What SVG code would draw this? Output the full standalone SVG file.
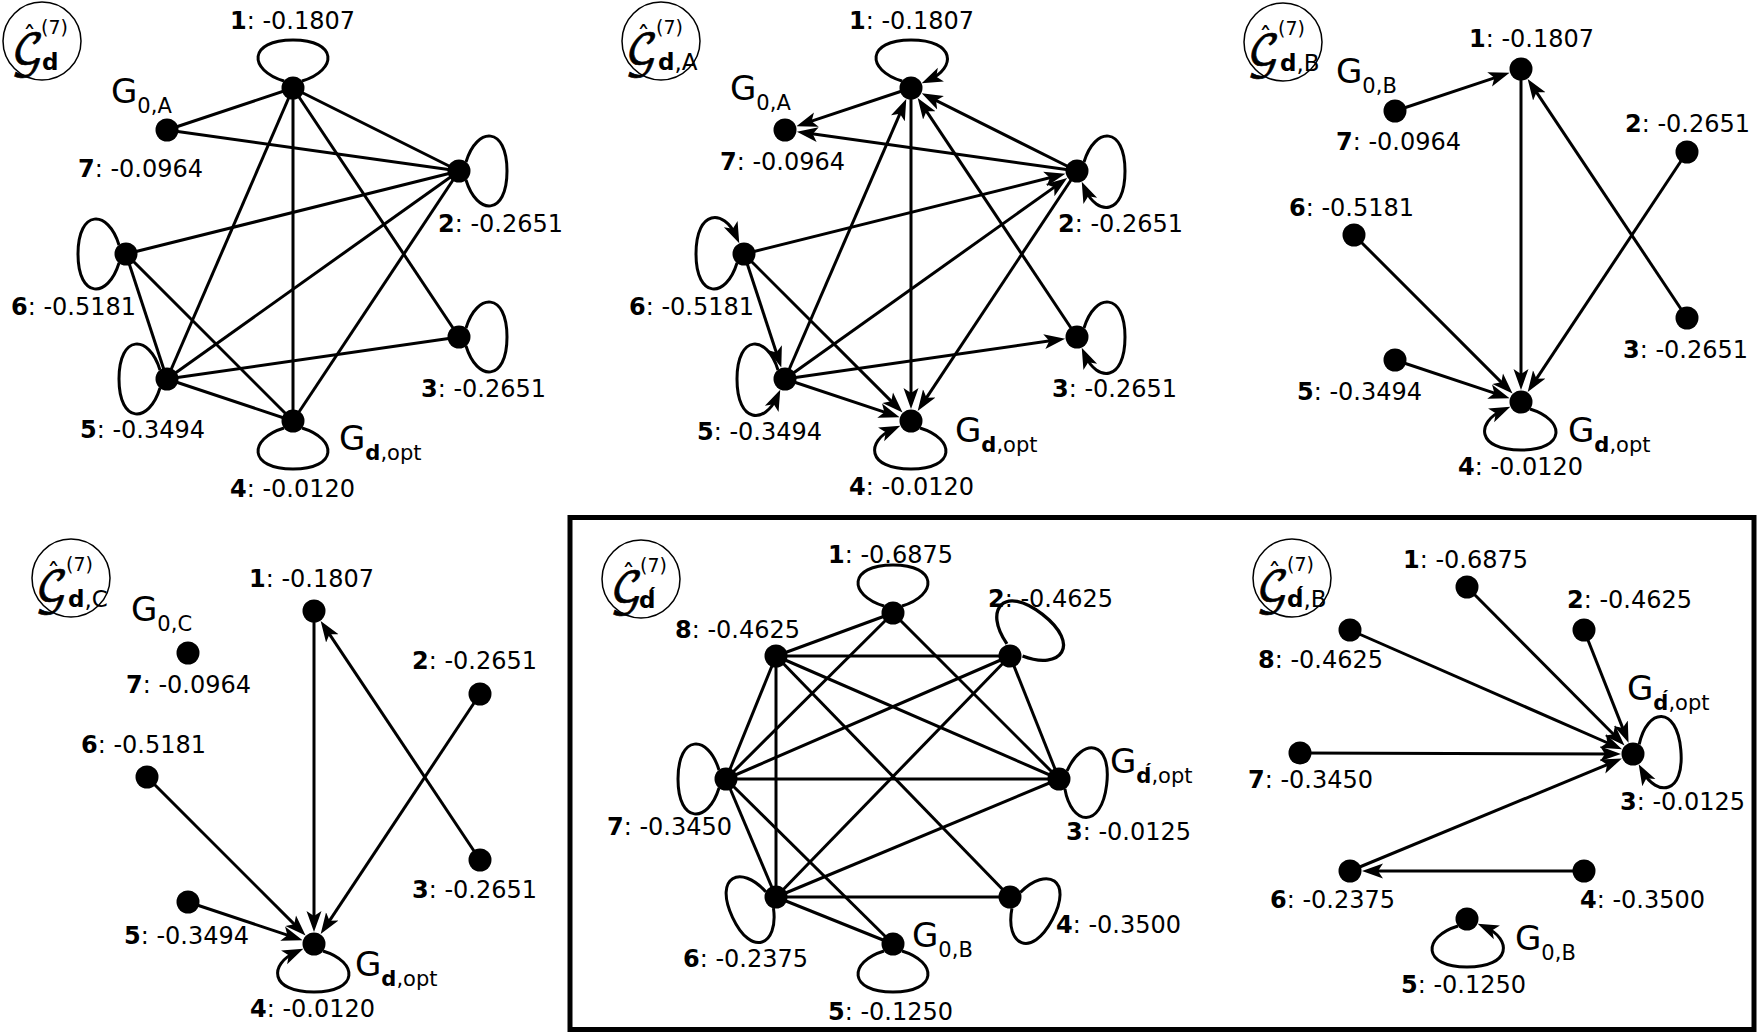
<svg xmlns="http://www.w3.org/2000/svg" xmlns:xlink="http://www.w3.org/1999/xlink" width="1762" height="1035" viewBox="0 0 1762 1035">
<style>
  .e { stroke:#000; stroke-width:3; fill:none; }
  .a { marker-end:url(#ah); }
  .n { fill:#000; }
  text { font-family:"DejaVu Sans","Liberation Sans",sans-serif; fill:#000; }
  .v { font-size:24px; }
  .g { font-size:34px; }
  .s { font-size:21px; }
  .ttl circle { fill:none; stroke:#000; stroke-width:1.5; }
  .cal { font-family:"DejaVu Math TeX Gyre","DejaVu Serif",serif; font-size:44px; stroke:#000; stroke-width:0.7; }
  .hat { font-size:26px; }
  .sup { font-size:19px; }
  .ts { font-size:23px; }
  .b { font-weight:bold; }
</style>
<defs>
  <marker id="ah" markerUnits="userSpaceOnUse" viewBox="0 -8 22 16" markerWidth="22" markerHeight="16" refX="13" refY="0" orient="auto">
    <path d="M21,0 L0,-7.5 L5,0 L0,7.5 Z" fill="#000"/>
  </marker>
  <!-- self-loop, drawn pointing up from a node at the origin -->
  <path id="lp" d="M-9,-7 C-45,-18 -45,-48 0,-48 C45,-48 45,-18 9,-7" fill="none" stroke="#000" stroke-width="3"/>
  <path id="lpd" d="M-9,-7 C-45,-18 -45,-48 0,-48 C45,-48 45,-20 18,-8" fill="none" stroke="#000" stroke-width="3" marker-end="url(#ah)"/>
</defs>
<rect width="1762" height="1035" fill="#fff"/>

<!-- frame round the two lower-right graphs -->
<rect id="frame" x="570" y="517.5" width="1184" height="512" fill="none" stroke="#000" stroke-width="5"/>

<!-- ===== graph 1 ===== -->
<g id="panel-1">
  <g id="p1-title" class="ttl" transform="translate(42,41)">
    <circle r="39"/>
    <text><tspan class="cal" x="-31" y="25">𝒢</tspan><tspan class="hat" x="-19" y="5">ˆ</tspan><tspan class="sup" x="-1" y="-7">(7)</tspan><tspan class="ts b" x="0" y="29">d</tspan></text>
  </g>
  <g id="p1-edges">
    <line class="e" x1="293" y1="88" x2="167" y2="130"/>
    <line class="e" x1="293" y1="88" x2="459" y2="171"/>
    <line class="e" x1="293" y1="88" x2="167" y2="379"/>
    <line class="e" x1="293" y1="88" x2="293" y2="421"/>
    <line class="e" x1="293" y1="88" x2="459" y2="337"/>
    <line class="e" x1="167" y1="130" x2="459" y2="171"/>
    <line class="e" x1="459" y1="171" x2="126" y2="254"/>
    <line class="e" x1="459" y1="171" x2="167" y2="379"/>
    <line class="e" x1="459" y1="171" x2="293" y2="421"/>
    <line class="e" x1="126" y1="254" x2="167" y2="379"/>
    <line class="e" x1="126" y1="254" x2="293" y2="421"/>
    <line class="e" x1="167" y1="379" x2="459" y2="337"/>
    <line class="e" x1="167" y1="379" x2="293" y2="421"/>
    <use xlink:href="#lp" transform="translate(293,88)"/>
    <use xlink:href="#lp" transform="translate(459,171) rotate(90)"/>
    <use xlink:href="#lp" transform="translate(126,254) rotate(-90)"/>
    <use xlink:href="#lp" transform="translate(459,337) rotate(90)"/>
    <use xlink:href="#lp" transform="translate(167,379) rotate(-90)"/>
    <use xlink:href="#lp" transform="translate(293,421) rotate(180)"/>
  </g>
  <g id="p1-n1"><circle class="n" cx="293" cy="88" r="11.5"/><text class="v" x="230" y="29"><tspan class="b">1</tspan>: -0.1807</text></g>
  <g id="p1-n2"><circle class="n" cx="459" cy="171" r="11.5"/><text class="v" x="438" y="232"><tspan class="b">2</tspan>: -0.2651</text></g>
  <g id="p1-n3"><circle class="n" cx="459" cy="337" r="11.5"/><text class="v" x="421" y="397"><tspan class="b">3</tspan>: -0.2651</text></g>
  <g id="p1-n4"><circle class="n" cx="293" cy="421" r="11.5"/><text class="g" x="339" y="450">G<tspan class="s" dy="10"><tspan class="b">d</tspan>,opt</tspan></text><text class="v" x="230" y="497"><tspan class="b">4</tspan>: -0.0120</text></g>
  <g id="p1-n5"><circle class="n" cx="167" cy="379" r="11.5"/><text class="v" x="80" y="438"><tspan class="b">5</tspan>: -0.3494</text></g>
  <g id="p1-n6"><circle class="n" cx="126" cy="254" r="11.5"/><text class="v" x="11" y="315"><tspan class="b">6</tspan>: -0.5181</text></g>
  <g id="p1-n7"><circle class="n" cx="167" cy="130" r="11.5"/><text class="g" x="111" y="103">G<tspan class="s" dy="10">0,A</tspan></text><text class="v" x="78" y="177"><tspan class="b">7</tspan>: -0.0964</text></g>
</g>

<!-- ===== graph 2 ===== -->
<g id="panel-2">
  <g id="p2-title" class="ttl" transform="translate(661,41)">
    <circle r="39"/>
    <text><tspan class="cal" x="-36" y="25">𝒢</tspan><tspan class="hat" x="-24" y="5">ˆ</tspan><tspan class="sup" x="-5" y="-7">(7)</tspan><tspan class="ts" x="-3" y="29"><tspan class="b">d</tspan>,A</tspan></text>
  </g>
  <g id="p2-edges">
    <path class="e a" d="M911,88 L804,123.7"/>
    <path class="e a" d="M1077,171 L804.8,132.8"/>
    <path class="e a" d="M1077,171 L928.9,96.9"/>
    <path class="e a" d="M1077,337 L922.1,104.6"/>
    <path class="e a" d="M911,88 L911,401"/>
    <path class="e a" d="M785,379 L903.1,106.4"/>
    <path class="e a" d="M744,254 L1057.6,175.8"/>
    <path class="e a" d="M785,379 L1060.7,182.6"/>
    <path class="e a" d="M1077,171 L922.1,404.3"/>
    <path class="e a" d="M744,254 L778.8,360"/>
    <path class="e a" d="M744,254 L896.9,406.9"/>
    <path class="e a" d="M785,379 L1057.2,339.8"/>
    <path class="e a" d="M785,379 L892,414.7"/>
    <use xlink:href="#lpd" transform="translate(911,88)"/>
    <use xlink:href="#lpd" transform="translate(1077,171) rotate(90)"/>
    <use xlink:href="#lpd" transform="translate(744,254) rotate(-90)"/>
    <use xlink:href="#lpd" transform="translate(1077,337) rotate(90)"/>
    <use xlink:href="#lpd" transform="translate(785,379) rotate(-90) scale(-1,1)"/>
    <use xlink:href="#lpd" transform="translate(911,421) rotate(180)"/>
  </g>
  <g id="p2-n1"><circle class="n" cx="911" cy="88" r="11.5"/><text class="v" x="849" y="29"><tspan class="b">1</tspan>: -0.1807</text></g>
  <g id="p2-n2"><circle class="n" cx="1077" cy="171" r="11.5"/><text class="v" x="1058" y="232"><tspan class="b">2</tspan>: -0.2651</text></g>
  <g id="p2-n3"><circle class="n" cx="1077" cy="337" r="11.5"/><text class="v" x="1052" y="397"><tspan class="b">3</tspan>: -0.2651</text></g>
  <g id="p2-n4"><circle class="n" cx="911" cy="421" r="11.5"/><text class="g" x="955" y="442">G<tspan class="s" dy="10"><tspan class="b">d</tspan>,opt</tspan></text><text class="v" x="849" y="495"><tspan class="b">4</tspan>: -0.0120</text></g>
  <g id="p2-n5"><circle class="n" cx="785" cy="379" r="11.5"/><text class="v" x="697" y="440"><tspan class="b">5</tspan>: -0.3494</text></g>
  <g id="p2-n6"><circle class="n" cx="744" cy="254" r="11.5"/><text class="v" x="629" y="315"><tspan class="b">6</tspan>: -0.5181</text></g>
  <g id="p2-n7"><circle class="n" cx="785" cy="130" r="11.5"/><text class="g" x="730" y="100">G<tspan class="s" dy="10">0,A</tspan></text><text class="v" x="720" y="170"><tspan class="b">7</tspan>: -0.0964</text></g>
</g>

<!-- ===== graph 3 ===== -->
<g id="panel-3">
  <g id="p3-title" class="ttl" transform="translate(1283,42)">
    <circle r="39"/>
    <text><tspan class="cal" x="-36" y="25">𝒢</tspan><tspan class="hat" x="-24" y="5">ˆ</tspan><tspan class="sup" x="-5" y="-7">(7)</tspan><tspan class="ts" x="-3" y="29"><tspan class="b">d</tspan>,B</tspan></text>
  </g>
  <g id="p3-edges">
    <path class="e a" d="M1395,111 L1502,75.3"/>
    <path class="e a" d="M1521,69 L1521,382"/>
    <path class="e a" d="M1687,318 L1532.1,85.6"/>
    <path class="e a" d="M1687,152 L1532.1,385.3"/>
    <path class="e a" d="M1354,235 L1506.9,387.9"/>
    <path class="e a" d="M1395,360 L1502,395.7"/>
    <use xlink:href="#lpd" transform="translate(1521,402) rotate(180)"/>
  </g>
  <g id="p3-n1"><circle class="n" cx="1521" cy="69" r="11.5"/><text class="v" x="1469" y="47"><tspan class="b">1</tspan>: -0.1807</text></g>
  <g id="p3-n2"><circle class="n" cx="1687" cy="152" r="11.5"/><text class="v" x="1625" y="132"><tspan class="b">2</tspan>: -0.2651</text></g>
  <g id="p3-n3"><circle class="n" cx="1687" cy="318" r="11.5"/><text class="v" x="1623" y="358"><tspan class="b">3</tspan>: -0.2651</text></g>
  <g id="p3-n4"><circle class="n" cx="1521" cy="402" r="11.5"/><text class="g" x="1568" y="442">G<tspan class="s" dy="10"><tspan class="b">d</tspan>,opt</tspan></text><text class="v" x="1458" y="475"><tspan class="b">4</tspan>: -0.0120</text></g>
  <g id="p3-n5"><circle class="n" cx="1395" cy="360" r="11.5"/><text class="v" x="1297" y="400"><tspan class="b">5</tspan>: -0.3494</text></g>
  <g id="p3-n6"><circle class="n" cx="1354" cy="235" r="11.5"/><text class="v" x="1289" y="216"><tspan class="b">6</tspan>: -0.5181</text></g>
  <g id="p3-n7"><circle class="n" cx="1395" cy="111" r="11.5"/><text class="g" x="1336" y="83">G<tspan class="s" dy="10">0,B</tspan></text><text class="v" x="1336" y="150"><tspan class="b">7</tspan>: -0.0964</text></g>
</g>

<!-- ===== graph 4 ===== -->
<g id="panel-4">
  <g id="p4-title" class="ttl" transform="translate(71,578)">
    <circle r="39"/>
    <text><tspan class="cal" x="-36" y="25">𝒢</tspan><tspan class="hat" x="-24" y="5">ˆ</tspan><tspan class="sup" x="-5" y="-7">(7)</tspan><tspan class="ts" x="-3" y="29"><tspan class="b">d</tspan>,C</tspan></text>
  </g>
  <g id="p4-edges">
    <path class="e a" d="M314,611 L314,924"/>
    <path class="e a" d="M480,860 L325.1,627.6"/>
    <path class="e a" d="M480,694 L325.1,927.3"/>
    <path class="e a" d="M147,777 L299.9,929.9"/>
    <path class="e a" d="M188,902 L295,937.7"/>
    <use xlink:href="#lpd" transform="translate(314,944) rotate(180)"/>
  </g>
  <g id="p4-n1"><circle class="n" cx="314" cy="611" r="11.5"/><text class="v" x="249" y="587"><tspan class="b">1</tspan>: -0.1807</text></g>
  <g id="p4-n2"><circle class="n" cx="480" cy="694" r="11.5"/><text class="v" x="412" y="669"><tspan class="b">2</tspan>: -0.2651</text></g>
  <g id="p4-n3"><circle class="n" cx="480" cy="860" r="11.5"/><text class="v" x="412" y="898"><tspan class="b">3</tspan>: -0.2651</text></g>
  <g id="p4-n4"><circle class="n" cx="314" cy="944" r="11.5"/><text class="g" x="355" y="976">G<tspan class="s" dy="10"><tspan class="b">d</tspan>,opt</tspan></text><text class="v" x="250" y="1017"><tspan class="b">4</tspan>: -0.0120</text></g>
  <g id="p4-n5"><circle class="n" cx="188" cy="902" r="11.5"/><text class="v" x="124" y="944"><tspan class="b">5</tspan>: -0.3494</text></g>
  <g id="p4-n6"><circle class="n" cx="147" cy="777" r="11.5"/><text class="v" x="81" y="753"><tspan class="b">6</tspan>: -0.5181</text></g>
  <g id="p4-n7"><circle class="n" cx="188" cy="653" r="11.5"/><text class="g" x="131" y="621">G<tspan class="s" dy="10">0,C</tspan></text><text class="v" x="126" y="693"><tspan class="b">7</tspan>: -0.0964</text></g>
</g>

<!-- ===== graph 5 (eight nodes) ===== -->
<g id="panel-5">
  <g id="p5-title" class="ttl" transform="translate(641,579)">
    <circle r="39"/>
    <text><tspan class="cal" x="-31" y="25">𝒢</tspan><tspan class="hat" x="-19" y="5">ˆ</tspan><tspan class="sup" x="-1" y="-7">(7)</tspan><tspan class="ts b" x="-2" y="29">d́</tspan></text>
  </g>
  <g id="p5-edges">
    <line class="e" x1="893" y1="613" x2="776" y2="656"/>
    <line class="e" x1="893" y1="613" x2="726" y2="779"/>
    <line class="e" x1="893" y1="613" x2="1059" y2="779"/>
    <line class="e" x1="1010" y1="656" x2="776" y2="656"/>
    <line class="e" x1="1010" y1="656" x2="726" y2="779"/>
    <line class="e" x1="1010" y1="656" x2="776" y2="897"/>
    <line class="e" x1="1010" y1="656" x2="1059" y2="779"/>
    <line class="e" x1="776" y1="656" x2="726" y2="779"/>
    <line class="e" x1="776" y1="656" x2="776" y2="897"/>
    <line class="e" x1="776" y1="656" x2="1059" y2="779"/>
    <line class="e" x1="776" y1="656" x2="1010" y2="897"/>
    <line class="e" x1="726" y1="779" x2="1059" y2="779"/>
    <line class="e" x1="726" y1="779" x2="776" y2="897"/>
    <line class="e" x1="726" y1="779" x2="893" y2="944"/>
    <line class="e" x1="1059" y1="779" x2="776" y2="897"/>
    <line class="e" x1="776" y1="897" x2="1010" y2="897"/>
    <line class="e" x1="776" y1="897" x2="893" y2="944"/>
    <use xlink:href="#lp" transform="translate(893,613)"/>
    <use xlink:href="#lp" transform="translate(1010,656) rotate(38) scale(1.1)"/>
    <use xlink:href="#lp" transform="translate(726,779) rotate(-90)"/>
    <use xlink:href="#lp" transform="translate(1059,779) rotate(97)"/>
    <use xlink:href="#lp" transform="translate(776,897) rotate(-115)"/>
    <use xlink:href="#lp" transform="translate(1010,897) rotate(118)"/>
    <use xlink:href="#lp" transform="translate(893,944) rotate(180)"/>
  </g>
  <g id="p5-n1"><circle class="n" cx="893" cy="613" r="11.5"/><text class="v" x="828" y="563"><tspan class="b">1</tspan>: -0.6875</text></g>
  <g id="p5-n2"><circle class="n" cx="1010" cy="656" r="11.5"/><text class="v" x="988" y="607"><tspan class="b">2</tspan>: -0.4625</text></g>
  <g id="p5-n3"><circle class="n" cx="1059" cy="779" r="11.5"/><text class="g" x="1110" y="773">G<tspan class="s" dy="10"><tspan class="b">d́</tspan>,opt</tspan></text><text class="v" x="1066" y="840"><tspan class="b">3</tspan>: -0.0125</text></g>
  <g id="p5-n4"><circle class="n" cx="1010" cy="897" r="11.5"/><text class="v" x="1056" y="933"><tspan class="b">4</tspan>: -0.3500</text></g>
  <g id="p5-n5"><circle class="n" cx="893" cy="944" r="11.5"/><text class="g" x="912" y="947">G<tspan class="s" dy="10">0,B</tspan></text><text class="v" x="828" y="1020"><tspan class="b">5</tspan>: -0.1250</text></g>
  <g id="p5-n6"><circle class="n" cx="776" cy="897" r="11.5"/><text class="v" x="683" y="967"><tspan class="b">6</tspan>: -0.2375</text></g>
  <g id="p5-n7"><circle class="n" cx="726" cy="779" r="11.5"/><text class="v" x="607" y="835"><tspan class="b">7</tspan>: -0.3450</text></g>
  <g id="p5-n8"><circle class="n" cx="776" cy="656" r="11.5"/><text class="v" x="675" y="638"><tspan class="b">8</tspan>: -0.4625</text></g>
</g>

<!-- ===== graph 6 (eight nodes, directed) ===== -->
<g id="panel-6">
  <g id="p6-title" class="ttl" transform="translate(1292,578)">
    <circle r="39"/>
    <text><tspan class="cal" x="-36" y="25">𝒢</tspan><tspan class="hat" x="-24" y="5">ˆ</tspan><tspan class="sup" x="-5" y="-7">(7)</tspan><tspan class="ts" x="-5" y="29"><tspan class="b">d́</tspan>,B</tspan></text>
  </g>
  <g id="p6-edges">
    <path class="e a" d="M1350,630 L1614.7,746"/>
    <path class="e a" d="M1467,587 L1618.9,739.8"/>
    <path class="e a" d="M1584,630 L1625.6,735.4"/>
    <path class="e a" d="M1300,753 L1613,753.9"/>
    <path class="e a" d="M1350,871 L1614.5,761.6"/>
    <path class="e a" d="M1584,871 L1370,871"/>
    <use xlink:href="#lpd" transform="translate(1633,754) rotate(85)"/>
    <use xlink:href="#lpd" transform="translate(1467,919) rotate(180) scale(-1,1)"/>
  </g>
  <g id="p6-n1"><circle class="n" cx="1467" cy="587" r="11.5"/><text class="v" x="1403" y="568"><tspan class="b">1</tspan>: -0.6875</text></g>
  <g id="p6-n2"><circle class="n" cx="1584" cy="630" r="11.5"/><text class="v" x="1567" y="608"><tspan class="b">2</tspan>: -0.4625</text></g>
  <g id="p6-n3"><circle class="n" cx="1633" cy="754" r="11.5"/><text class="g" x="1627" y="700">G<tspan class="s" dy="10"><tspan class="b">d́</tspan>,opt</tspan></text><text class="v" x="1620" y="810"><tspan class="b">3</tspan>: -0.0125</text></g>
  <g id="p6-n4"><circle class="n" cx="1584" cy="871" r="11.5"/><text class="v" x="1580" y="908"><tspan class="b">4</tspan>: -0.3500</text></g>
  <g id="p6-n5"><circle class="n" cx="1467" cy="919" r="11.5"/><text class="g" x="1515" y="950">G<tspan class="s" dy="10">0,B</tspan></text><text class="v" x="1401" y="993"><tspan class="b">5</tspan>: -0.1250</text></g>
  <g id="p6-n6"><circle class="n" cx="1350" cy="871" r="11.5"/><text class="v" x="1270" y="908"><tspan class="b">6</tspan>: -0.2375</text></g>
  <g id="p6-n7"><circle class="n" cx="1300" cy="753" r="11.5"/><text class="v" x="1248" y="788"><tspan class="b">7</tspan>: -0.3450</text></g>
  <g id="p6-n8"><circle class="n" cx="1350" cy="630" r="11.5"/><text class="v" x="1258" y="668"><tspan class="b">8</tspan>: -0.4625</text></g>
</g>
</svg>
